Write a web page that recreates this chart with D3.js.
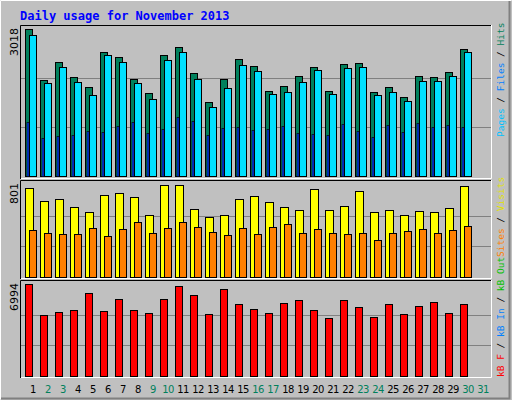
<!DOCTYPE html>
<html><head><meta charset="utf-8">
<script src="https://cdn.jsdelivr.net/npm/d3@7"></script>
<style>body{margin:0;background:#fff}svg{display:block}</style>
</head><body>
<script>
// Webalizer daily usage, November 2013
const days = d3.range(1, 32);
const weekend = [2, 3, 9, 10, 16, 17, 23, 24, 30, 31];
const hits = [3018,1965,2334,2026,1821,2540,2437,1985,1698,2478,2642,2108,1513,1985,2396,2252,1739,1842,2047,2232,1739,2293,2314,1718,1821,1616,2047,2026,2129,2601,0];
const files = [2889,1903,2232,1924,1657,2478,2334,1903,1575,2375,2540,1985,1410,1800,2273,2150,1677,1718,1924,2170,1677,2211,2232,1657,1718,1534,1944,1944,2047,2540,0];
const pages = [1102,774,815,836,918,897,1020,1102,877,959,1205,1123,836,979,1000,938,959,1020,877,856,836,1061,918,795,1041,897,1082,1000,1041,1000,0];
const visits = [773,659,677,607,564,712,729,694,537,801,801,590,520,537,677,703,651,607,581,764,581,616,746,564,581,537,572,564,598,790,0];
const sites = [407,381,372,372,424,354,415,476,381,424,476,433,389,363,424,372,433,459,381,415,381,372,381,320,381,398,415,381,407,442,0];
const kbytes = [6994,4621,4850,5003,6304,4927,5845,5003,4774,5845,6839,6151,4697,6610,5462,5080,4774,5539,5768,5003,4391,5768,5233,4468,5462,4697,5309,5615,4774,5462,0];

const W = 512, H = 400;
const svg = d3.select("body").append("svg").attr("width", W).attr("height", H);

// frame
svg.append("rect").attr("width", W).attr("height", H).attr("fill", "#c0c0c0");
svg.append("path").attr("d", "M0.5,399.5V0.5H511.5").attr("stroke", "#fff").attr("fill", "none");
svg.append("path").attr("d", "M1,398.5H509.5V1").attr("stroke", "#808080").attr("stroke-width", 2).attr("fill", "none");

svg.append("text").attr("x", 20).attr("y", 20)
  .attr("font-family", "DejaVu Sans Mono").attr("font-weight", "bold").attr("font-size", 12)
  .attr("fill", "#0000ff").text("Daily usage for November 2013");

const x = d3.scaleLinear().domain([1, 31]).range([25, 475]);

const panels = [
  {top: 25, bot: 179, base: 176, max: 3018},
  {top: 180, bot: 279, base: 277, max: 801},
  {top: 280, bot: 378, base: 376, max: 6994}
];

panels.forEach(p => {
  p.y = d3.scaleLinear().domain([0, p.max]).range([p.base, p.base - (p.max === 3018 ? 147 : 92)]);
  const g = svg.append("g");
  g.append("path").attr("d", `M20.5,${p.bot}V${p.top + 0.5}H491`).attr("stroke", "#000").attr("fill", "none");
  g.append("path").attr("d", `M21,${p.bot - 0.5}H491.5V${p.top}`).attr("stroke", "#fff").attr("fill", "none");
  [1, 2].forEach(k => g.append("line")
    .attr("x1", 21).attr("x2", 491)
    .attr("y1", Math.round(p.y(p.max * k / 3)) + 0.5).attr("y2", Math.round(p.y(p.max * k / 3)) + 0.5)
    .attr("stroke", "#808080"));
  g.append("text").attr("transform", `translate(18,${p.top + 3}) rotate(-90)`)
    .attr("text-anchor", "end").attr("font-family", "DejaVu Sans").attr("font-size", 11)
    .text(p.max);
});

function bars(vals, p, dx, w, color, sw) {
  svg.append("g").selectAll("rect").data(days.filter((d, i) => vals[i] > 0)).join("rect")
    .attr("x", d => Math.round(x(d)) + dx + 0.5)
    .attr("y", d => Math.round(p.y(vals[d - 1])) + 0.5)
    .attr("width", w)
    .attr("height", d => p.base - Math.round(p.y(vals[d - 1])))
    .attr("fill", color).attr("stroke", "#000").attr("stroke-width", sw || 1);
}
bars(hits, panels[0], 0, 7, "#00805c");
bars(files, panels[0], 4, 7, "#00e0ff");
bars(pages, panels[0], 1.5, 2, "#0040ff", 0.6);
bars(visits, panels[1], 0, 8, "#ffff00");
bars(sites, panels[1], 4, 7, "#ff8000");
bars(kbytes, panels[2], 0, 7, "#ff0000");

// x labels
svg.append("g").selectAll("text").data(days).join("text")
  .attr("x", d => x(d) + 8).attr("y", 393)
  .attr("text-anchor", "middle").attr("font-family", "DejaVu Sans").attr("font-size", 10)
  .attr("letter-spacing", -0.6)
  .attr("fill", d => weekend.includes(d) ? "#00805c" : "#000").text(d => d);

// right side legends
function legend(yb, parts) {
  const t = svg.append("text").attr("transform", `translate(504,${yb}) rotate(-90)`)
    .attr("font-family", "DejaVu Sans Mono").attr("font-size", 9.5);
  parts.forEach(([s, c]) => t.append("tspan").attr("fill", c).text(s));
}
legend(137, [["Pages", "#00c0ff"], [" / ", "#000"], ["Files", "#0080ff"], [" / ", "#000"], ["Hits", "#00805c"]]);
legend(257, [["Sites", "#ff8000"], [" / ", "#000"], ["Visits", "#e0e000"]]);
legend(377, [["kB F", "#ff0000"], [" / ", "#000"], ["kB In", "#0080ff"], [" / ", "#000"], ["kB Out", "#00c000"]]);
</script>
</body></html>
